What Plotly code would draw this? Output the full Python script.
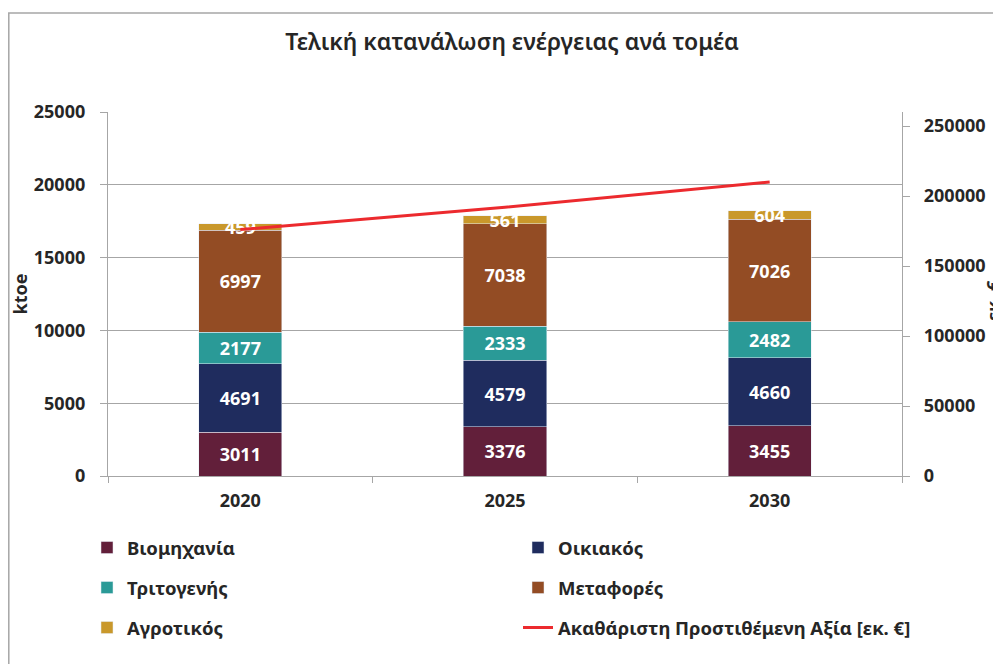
import plotly.graph_objects as go

years = ["2020", "2025", "2030"]
industry = [3011, 3376, 3455]
household = [4691, 4579, 4660]
tertiary = [2177, 2333, 2482]
transport = [6997, 7038, 7026]
agriculture = [459, 561, 604]
gva = [176000, 192000, 210000]

# page is offset by 8px (body margin) -> work in page coordinates, subtract OFF
OFF = 8
W, H = 1001 - OFF, 664 - OFF
L, T = 108 - OFF, 112 - OFF
R = W - (902 - OFF)
B = H - (476 - OFF)
pw, ph = W - L - R, H - T - B

def px2paper_x(px):
    return (px - OFF - L) / pw

def px2paper_y(py):
    return (H - B - (py - OFF)) / ph

FONT = "Noto Sans"
TXT = "#262626"
legfont = dict(family=FONT, size=18.5, color=TXT, weight="bold")

def leg(xpx, ypx):
    # xpx: page x where legend text starts; ypx: page y of row centre
    return dict(orientation="h", xref="container", yref="container",
                x=(xpx - OFF - 40) / W, y=1 - (ypx - OFF) / H, xanchor="left", yanchor="middle",
                itemwidth=30, font=legfont, bgcolor="rgba(0,0,0,0)")

series = [
    ("Βιομηχανία", industry, "#621F3A", "legend"),
    ("Οικιακός", household, "#1F2C5E", "legend2"),
    ("Τριτογενής", tertiary, "#2A9A97", "legend3"),
    ("Μεταφορές", transport, "#934C24", "legend4"),
    ("Αγροτικός", agriculture, "#C9982B", "legend5"),
]

fig = go.Figure()
for name, vals, col, lg in series:
    fig.add_trace(go.Bar(
        x=years, y=vals, name=name, marker_color=col, legend=lg,
        text=[str(v) for v in vals], textposition="inside", insidetextanchor="middle",
        textfont=dict(family=FONT, size=18, color="white", weight="bold"),
        constraintext="none", cliponaxis=False,
    ))

fig.add_trace(go.Scatter(
    x=years, y=gva, name="Ακαθάριστη Προστιθέμενη Αξία [εκ. €]", mode="lines",
    line=dict(color="#EC2A2E", width=3), yaxis="y2", legend="legend6",
))

tickfont = dict(family=FONT, size=18, color=TXT, weight="bold")

fig.update_layout(
    width=W, height=H,
    margin=dict(l=L, r=R, t=T, b=B, autoexpand=False),
    paper_bgcolor="white", plot_bgcolor="white",
    barmode="stack", bargap=0.686,
    uniformtext=dict(mode="show", minsize=18),
    title=dict(text="Τελική κατανάλωση ενέργειας ανά τομέα", x=(512 - OFF) / W, xanchor="center",
               y=1 - (42 - OFF) / H, yanchor="middle", yref="container",
               font=dict(family=FONT, size=23, color=TXT, weight=600)),
    font=dict(family=FONT, color=TXT),
    legend=leg(127, 548), legend2=leg(558, 548),
    legend3=leg(127, 588), legend4=leg(558, 588),
    legend5=leg(127, 628), legend6=leg(558, 628),
    showlegend=True,
    xaxis=dict(type="category", showline=True, linecolor="#A6A6A6", linewidth=1.3,
               ticks="outside", tickson="boundaries", ticklen=6, tickcolor="#A6A6A6",
               tickfont=tickfont, ticklabelstandoff=8, showgrid=False),
    yaxis=dict(range=[0, 25000], dtick=5000, tickformat="d", showline=True, linecolor="#A6A6A6",
               linewidth=1.3, ticks="outside", ticklen=7, tickcolor="#A6A6A6",
               gridcolor="#A6A6A6", gridwidth=1.3, zeroline=False,
               tickfont=tickfont, ticklabelstandoff=11,
               title=dict(text="ktoe", standoff=2,
                          font=dict(family=FONT, size=18, color=TXT, weight="bold"))),
    yaxis2=dict(overlaying="y", side="right", range=[0, 260000],
                tickvals=[0, 50000, 100000, 150000, 200000, 250000], tickformat="d",
                showline=True, linecolor="#A6A6A6", linewidth=1.3, ticks="outside", ticklen=7,
                tickcolor="#A6A6A6", showgrid=False, zeroline=False,
                tickfont=tickfont, ticklabelstandoff=10),
    annotations=[dict(text="εκ. €", xref="paper", yref="paper", x=px2paper_x(993), y=px2paper_y(300),
                      xanchor="center", yanchor="middle", textangle=-90, showarrow=False,
                      font=dict(family=FONT, size=18, color=TXT, weight="bold"))],
    shapes=[dict(type="rect", xref="paper", yref="paper",
                 x0=px2paper_x(8.8), x1=px2paper_x(1080), y0=px2paper_y(700), y1=px2paper_y(13),
                 line=dict(color="#A6A6A6", width=1.5), fillcolor="rgba(0,0,0,0)", layer="below")],
)

fig.write_html("out.html")
